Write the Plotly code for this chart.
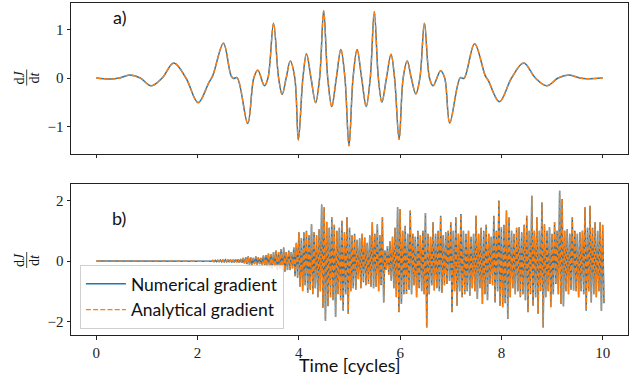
import numpy as np
import plotly.graph_objects as go
from plotly.subplots import make_subplots

# ---------------- Panel a) : smooth gradient (extrema / crossings read from picture)
t_a = [0.00, 0.27, 0.45, 0.66, 0.87, 1.08, 1.30, 1.53, 1.77, 2.01, 2.22, 2.30,
       2.51, 2.66, 2.71, 2.78, 2.99, 3.11, 3.19, 3.32, 3.39, 3.50, 3.60, 3.67,
       3.75, 3.83, 3.92, 3.99, 4.08, 4.15, 4.24, 4.33, 4.41, 4.49, 4.57, 4.65,
       4.74, 4.83, 4.91, 4.99, 5.07, 5.15, 5.24, 5.33, 5.41, 5.49, 5.57, 5.64,
       5.73, 5.82, 5.89, 5.98, 6.06, 6.14, 6.22, 6.31, 6.39, 6.48, 6.58, 6.65,
       6.80, 6.88, 6.98, 7.19, 7.26, 7.47, 7.68, 7.74, 7.96, 8.20, 8.44, 8.67,
       8.90, 9.12, 9.34, 9.55, 9.69, 10.00]
v_a = [0.00, -0.02, 0.00, 0.06, 0.00, -0.16, 0.00, 0.31, 0.00, -0.51, -0.10, 0.05,
       0.72, 0.05, -0.01, 0.01, -0.94, 0.00, 0.16, -0.16, 0.00, 1.13, 0.00, -0.34,
       0.00, 0.35, 0.00, -1.28, 0.00, 0.50, 0.00, -0.51, 0.00, 1.39, 0.00, -0.59,
       0.00, 0.59, 0.00, -1.40, 0.00, 0.59, 0.00, -0.59, 0.00, 1.37, 0.00, -0.50,
       0.00, 0.49, 0.00, -1.27, 0.00, 0.35, 0.00, -0.33, 0.00, 1.13, 0.00, -0.16,
       0.15, 0.00, -0.93, 0.01, -0.01, 0.71, 0.05, -0.05, -0.49, 0.00, 0.31, 0.00,
       -0.16, 0.00, 0.06, 0.00, -0.015, 0.00]

# ---------------- Panel b) : noisy gradient, per 0.05-cycle bin upper / lower values
b_start = [0.0]          # quiet part before the bins
b_start_val = [0.0]
bin_t0 = 2.0
bin_dt = 0.05
b_hi = [0.01, 0.01, 0.01, 0.01, 0.01, 0.01, 0.02, 0.02, 0.02,
        0.03, 0.03, 0.04, 0.03,
        0.05, 0.04, 0.06, 0.05, 0.07,
        0.10, 0.12, 0.15, 0.12, 0.10, 0.15, 0.12, 0.10, 0.18, 0.20, 0.25, 0.22,
        0.30, 0.35, 0.30, 0.40, 0.45, 0.30, 0.35, 0.30, 0.45, 0.60,
        0.95, 0.75, 0.95, 1.00, 0.85, 1.22, 0.95, 0.85, 1.05, 1.87,
        1.78, 1.30, 1.10, 1.45, 1.20, 1.00, 1.10, 1.33, 0.95, 1.45,
        1.10, 0.85, 0.90, 0.70, 0.75, 0.90, 0.78, 0.60, 0.85, 1.28,
        0.90, 1.22, 0.85, 1.45, 0.35, 0.50, 0.65, 0.80, 1.10, 1.78,
        1.72, 1.00, 1.17, 0.90, 1.67, 0.90, 0.80, 1.00, 0.85, 1.00,
        1.58, 0.90, 0.80, 1.28, 0.90, 1.00, 1.50, 0.85, 0.95, 1.00,
        1.28, 1.00, 1.45, 0.90, 1.56, 1.00, 0.90, 1.00, 0.80, 0.90,
        1.50, 0.90, 1.10, 1.00, 1.20, 0.90, 0.80, 1.50, 1.00, 2.00,
        1.12, 1.20, 1.67, 1.45, 1.00, 0.90, 1.10, 1.12, 0.95, 1.20,
        1.50, 1.00, 2.16, 1.00, 1.45, 1.00, 1.94, 1.22, 1.00, 1.12,
        0.90, 1.28, 1.00, 2.33, 2.05, 1.00, 1.05, 0.90, 1.45, 1.00,
        0.90, 0.95, 1.00, 1.78, 1.10, 1.83, 1.10, 1.28, 1.00, 1.28,
        1.20]
b_lo = [-0.01, -0.01, -0.01, -0.01, -0.01, -0.01, -0.02, -0.02, -0.02,
        -0.03, -0.03, -0.03, -0.04,
        -0.05, -0.05, -0.04, -0.06, -0.06,
        -0.08, -0.10, -0.12, -0.15, -0.10, -0.12, -0.10, -0.12, -0.15, -0.18,
        -0.20, -0.25, -0.20, -0.30, -0.25, -0.30, -0.35, -0.30, -0.30, -0.25,
        -0.50, -0.55,
        -0.85, -1.00, -0.80, -1.05, -0.95, -1.10, -0.90, -1.20, -1.00, -1.55,
        -1.98, -1.50, -1.20, -1.30, -1.85, -1.10, -1.30, -1.65, -1.10, -1.75,
        -1.00, -0.90, -0.95, -0.60, -0.90, -0.70, -0.80, -0.76, -0.85, -0.90,
        -0.85, -1.00, -0.80, -1.37, -0.30, -0.45, -0.65, -0.90, -1.20, -1.70,
        -1.42, -1.10, -1.09, -0.95, -1.10, -0.80, -1.20, -0.90, -1.00, -1.10,
        -2.20, -1.10, -0.80, -0.98, -0.90, -1.00, -1.05, -0.80, -0.76, -0.65,
        -1.70, -1.00, -1.48, -1.00, -1.20, -1.10, -1.00, -1.15, -0.90, -1.00,
        -1.26, -0.90, -1.42, -1.10, -1.30, -0.76, -0.80, -1.37, -1.00, -1.48,
        -1.53, -1.40, -1.92, -1.20, -0.90, -1.10, -1.00, -1.20, -1.10, -1.30,
        -1.70, -1.10, -1.48, -1.20, -1.75, -1.00, -2.20, -1.20, -1.00, -1.53,
        -1.10, -0.76, -1.10, -1.42, -1.50, -1.00, -1.10, -0.95, -0.98, -1.00,
        -1.20, -1.00, -1.10, -1.65, -1.00, -1.37, -1.10, -1.20, -1.00, -1.65,
        -1.40]

n = len(b_hi)
t_bins = bin_t0 + bin_dt * np.arange(n)
t_b = list(b_start)
v_b = list(b_start_val)
for i in range(n):
    t_b += [t_bins[i], t_bins[i] + bin_dt / 2]
    v_b += [b_hi[i], b_lo[i]]

BLUE = "#1f77b4"
ORANGE = "#ff7f0e"
DASH = "5px,2.2px"

fig = make_subplots(rows=2, cols=1, shared_xaxes=True, vertical_spacing=0.0904)

fig.add_trace(go.Scatter(x=t_a, y=v_a, mode="lines", line=dict(color=BLUE, width=1.5, shape="spline", smoothing=1.0),
                         showlegend=False), row=1, col=1)
fig.add_trace(go.Scatter(x=t_a, y=v_a, mode="lines", line=dict(color=ORANGE, width=1.3, dash=DASH, shape="spline", smoothing=1.0),
                         showlegend=False), row=1, col=1)
fig.add_trace(go.Scatter(x=t_b, y=v_b, mode="lines", line=dict(color=BLUE, width=1.5),
                         name="Numerical gradient"), row=2, col=1)
fig.add_trace(go.Scatter(x=t_b, y=v_b, mode="lines", line=dict(color=ORANGE, width=1.3, dash=DASH),
                         name="Analytical gradient"), row=2, col=1)

SERIF = "Liberation Serif, DejaVu Serif, serif"
SANS = "Lato, DejaVu Sans, sans-serif"

axis_common = dict(showline=True, mirror=True, linecolor="#222", linewidth=1,
                   ticks="outside", ticklen=3.5, tickwidth=0.8, tickcolor="#222",
                   showgrid=False, zeroline=False, automargin=False,
                   tickfont=dict(family=SERIF, size=15, color="#222"))

fig.update_xaxes(range=[-0.5, 10.5], tickvals=[0, 2, 4, 6, 8, 10], **axis_common)
fig.update_xaxes(showticklabels=False, row=1, col=1)
fig.update_yaxes(**axis_common)
fig.update_yaxes(range=[-1.57, 1.55], tickvals=[-1, 0, 1], row=1, col=1)
fig.update_yaxes(range=[-2.45, 2.55], tickvals=[-2, 0, 2], row=2, col=1)

W, H = 631, 376
L, R, T, B = 71, 3, 3, 41
pw, ph = W - L - R, H - T - B

def px_x(px):
    return (px - L) / pw

def px_y(py):
    return (H - B - py) / ph

# x-axis title
fig.add_annotation(text="Time [cycles]", xref="paper", yref="paper", x=px_x(349.5), y=px_y(364.5),
                   xanchor="center", yanchor="middle", showarrow=False,
                   font=dict(family=SANS, size=18, color="#111"))

# panel labels
fig.add_annotation(text="a)", xref="x domain", yref="y domain", x=0.087, y=0.905,
                   xanchor="center", yanchor="middle",
                   showarrow=False, font=dict(family=SANS, size=18, color="#111"))
fig.add_annotation(text="b)", xref="x2 domain", yref="y2 domain", x=0.087, y=0.772,
                   xanchor="center", yanchor="middle",
                   showarrow=False, font=dict(family=SANS, size=18, color="#111"))

# y-axis label as a rotated fraction dJ/dt
for yc in (77.5, 260.0):
    fig.add_annotation(text="d<i>J</i>", xref="paper", yref="paper", x=px_x(19.0), y=px_y(yc),
                       xanchor="center", yanchor="middle",
                       textangle=-90, showarrow=False, font=dict(family=SERIF, size=14, color="#111"))
    fig.add_annotation(text="d<i>t</i>", xref="paper", yref="paper", x=px_x(34.0), y=px_y(yc),
                       xanchor="center", yanchor="middle",
                       textangle=-90, showarrow=False, font=dict(family=SERIF, size=14, color="#111"))
    fig.add_shape(type="line", xref="paper", yref="paper", x0=px_x(26.7), x1=px_x(26.7),
                  y0=px_y(yc - 8), y1=px_y(yc + 8), line=dict(color="#111", width=0.8))

fig.update_layout(
    width=W, height=H,
    margin=dict(l=L, r=R, t=T, b=B),
    plot_bgcolor="white", paper_bgcolor="white",
    legend=dict(x=0.016, y=0.211, xanchor="left", yanchor="top",
                bgcolor="rgba(255,255,255,0.8)", bordercolor="#d0d0d0", borderwidth=1,
                font=dict(family=SANS, size=17.5, color="#111"), itemwidth=40),
)

fig.write_html("out.html", config={"displayModeBar": False},
               post_script="document.body.style.margin='0px';document.body.style.overflow='hidden';")
